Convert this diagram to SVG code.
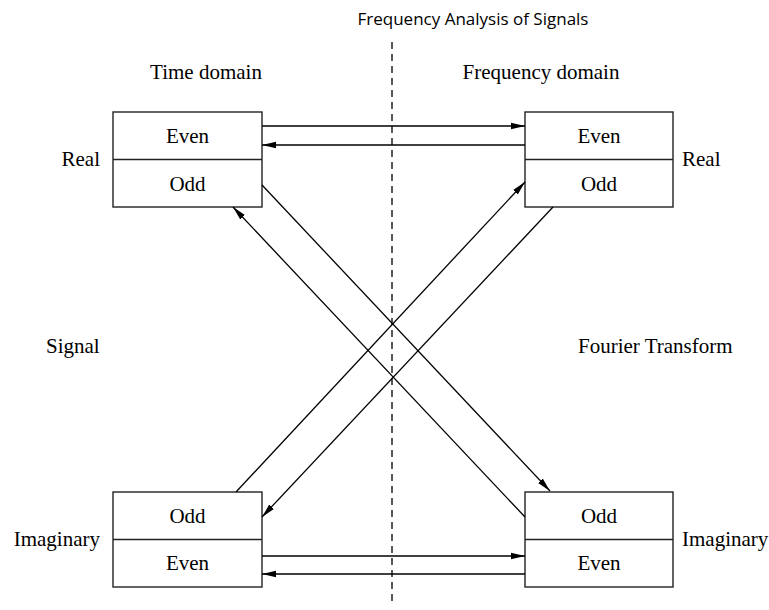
<svg xmlns="http://www.w3.org/2000/svg" width="769" height="610" viewBox="0 0 769 610">
<defs>
<marker id="ah" markerWidth="16" markerHeight="10" refX="14" refY="4" orient="auto" markerUnits="userSpaceOnUse">
<path d="M0,0.8 L14,4 L0,7.2 z" fill="#000"/>
</marker>
<style>
.box{fill:#fff;stroke:#222;stroke-width:1.4}
.div{stroke:#222;stroke-width:1.4}
.t{font-family:"Liberation Serif","Times New Roman",serif;font-size:21px;fill:#000}
.m{text-anchor:middle}
.e{text-anchor:end}
.title{font-family:"Open Sans","Noto Sans",sans-serif;font-size:17px;fill:#000;text-anchor:middle}
.c{stroke:#000;stroke-width:1.3;fill:none;marker-end:url(#ah)}
.dash{stroke:#000;stroke-width:1.3;stroke-dasharray:7,5}
</style>
</defs>
<rect width="769" height="610" fill="#fff"/>
<text class="title" x="473" y="25">Frequency Analysis of Signals</text>
<text class="t m" x="206" y="79">Time domain</text>
<text class="t m" x="541" y="79">Frequency domain</text>
<text class="t e" x="100" y="166">Real</text>
<text class="t" x="682" y="166">Real</text>
<text class="t" x="46" y="353">Signal</text>
<text class="t" x="578" y="353">Fourier Transform</text>
<text class="t e" x="100" y="546">Imaginary</text>
<text class="t" x="682" y="546">Imaginary</text>
<line class="dash" x1="392" y1="42" x2="392" y2="606"/>
<g id="tl">
<rect class="box" x="113" y="112" width="149" height="95"/>
<line class="div" x1="113" y1="159.5" x2="262" y2="159.5"/>
<text class="t m" x="187.5" y="143">Even</text>
<text class="t m" x="187.5" y="191">Odd</text>
</g>
<g id="tr">
<rect class="box" x="525" y="112" width="148" height="95"/>
<line class="div" x1="525" y1="159.5" x2="673" y2="159.5"/>
<text class="t m" x="599" y="143">Even</text>
<text class="t m" x="599" y="191">Odd</text>
</g>
<g id="bl">
<rect class="box" x="113" y="492" width="149" height="95"/>
<line class="div" x1="113" y1="539.5" x2="262" y2="539.5"/>
<text class="t m" x="187.5" y="523">Odd</text>
<text class="t m" x="187.5" y="570">Even</text>
</g>
<g id="br">
<rect class="box" x="525" y="492" width="148" height="95"/>
<line class="div" x1="525" y1="539.5" x2="673" y2="539.5"/>
<text class="t m" x="599" y="523">Odd</text>
<text class="t m" x="599" y="570">Even</text>
</g>
<g id="connectors">
<line class="c" x1="262" y1="126" x2="525" y2="126"/>
<line class="c" x1="525" y1="145" x2="262" y2="145"/>
<line class="c" x1="262" y1="556" x2="525" y2="556"/>
<line class="c" x1="525" y1="574" x2="262" y2="574"/>
<line class="c" x1="262" y1="185" x2="550" y2="491"/>
<line class="c" x1="525" y1="517" x2="233" y2="207"/>
<line class="c" x1="236" y1="492" x2="525" y2="182"/>
<line class="c" x1="553" y1="207" x2="262" y2="517"/>
</g>
</svg>
